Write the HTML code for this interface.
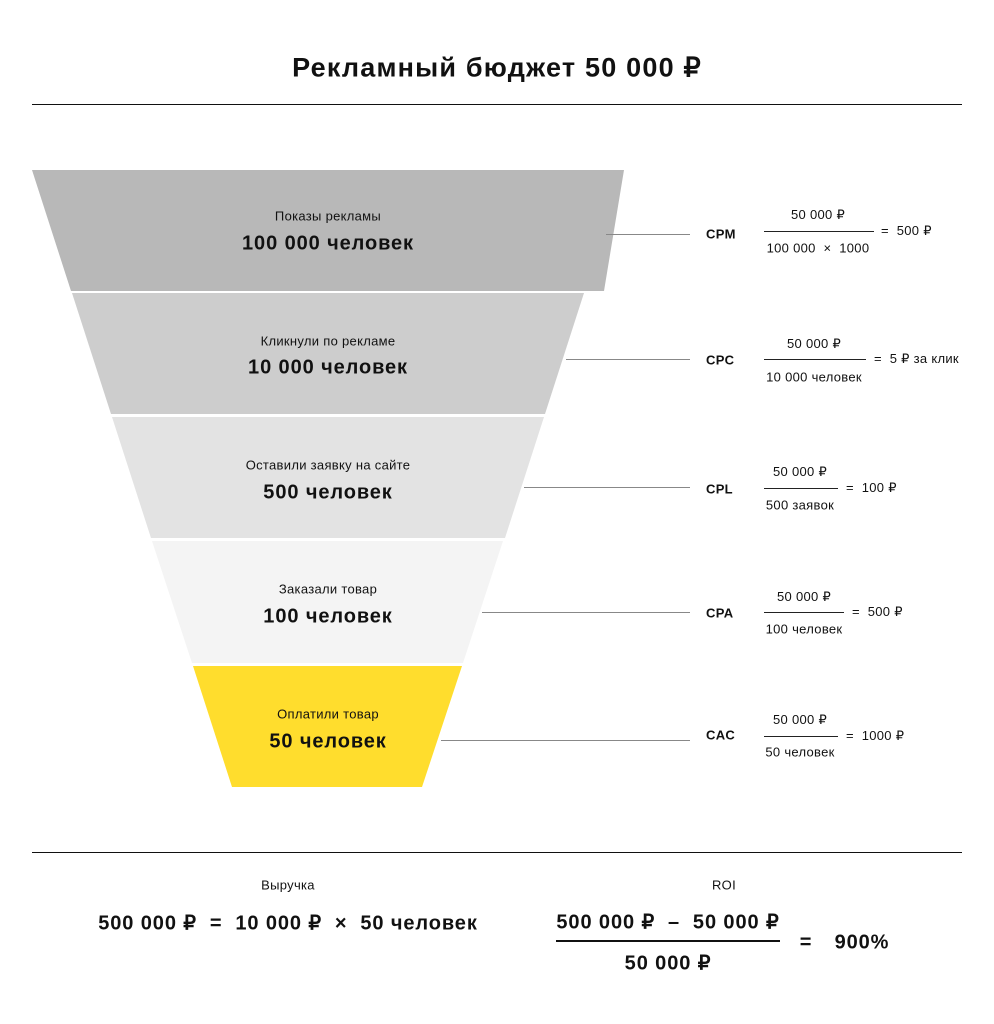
<!DOCTYPE html>
<html><head><meta charset="utf-8"><style>
body{margin:0;background:#fff;width:994px;height:1024px;position:relative;overflow:hidden;font-family:"Liberation Sans","Noto Sans CJK SC",sans-serif;color:#111}
.t{position:absolute;white-space:nowrap;transform:translate(-50%,-50%)}
.l{position:absolute;white-space:nowrap;transform:translateY(-50%)}
.s{font-size:13px;letter-spacing:0.3px}
.b{font-weight:bold;font-size:20px;letter-spacing:0.9px}
.hr{position:absolute;height:1px;background:#111}
.fl{position:absolute;height:1px;background:#222}
.cl{position:absolute;height:1px;background:#888}
.k{font-weight:bold;font-size:13px;letter-spacing:0.3px}
</style></head><body>
<div class="t" style="left:497px;top:68px;font-size:27px;font-weight:bold;letter-spacing:1.2px">Рекламный бюджет 50 000 ₽</div>
<div class="hr" style="left:32px;top:104px;width:930px"></div>
<svg style="position:absolute;left:0;top:0" width="994" height="1024">
<polygon points="32,170 624,170 604,291 71,291" fill="#b8b8b8"/>
<polygon points="72,293 584,293 545,414 111,414" fill="#cdcdcd"/>
<polygon points="112,417 544,417 505,538 151,538" fill="#e3e3e3"/>
<polygon points="152,541 503,541 463,663 192,663" fill="#f4f4f4"/>
<polygon points="193,666 462,666 422,787 232,787" fill="#ffdd2d"/>
</svg>
<div class="t s" style="left:328px;top:216px">Показы рекламы</div>
<div class="t b" style="left:328px;top:244px">100 000 человек</div>
<div class="t s" style="left:328px;top:341px">Кликнули по рекламе</div>
<div class="t b" style="left:328px;top:368px">10 000 человек</div>
<div class="t s" style="left:328px;top:465px">Оставили заявку на сайте</div>
<div class="t b" style="left:328px;top:493px">500 человек</div>
<div class="t s" style="left:328px;top:589px">Заказали товар</div>
<div class="t b" style="left:328px;top:617px">100 человек</div>
<div class="t s" style="left:328px;top:714px">Оплатили товар</div>
<div class="t b" style="left:328px;top:742px">50 человек</div>

<div class="cl" style="left:606px;top:234px;width:84px"></div>
<div class="cl" style="left:566px;top:359px;width:124px"></div>
<div class="cl" style="left:524px;top:487px;width:166px"></div>
<div class="cl" style="left:482px;top:612px;width:208px"></div>
<div class="cl" style="left:441px;top:740px;width:249px"></div>

<div class="l k" style="left:706px;top:234px">CPM</div>
<div class="t s" style="left:818px;top:215px">50 000 ₽</div>
<div class="fl" style="left:764px;top:231px;width:110px"></div>
<div class="t s" style="left:818px;top:248px">100 000 &nbsp;× &nbsp;1000</div>
<div class="l s" style="left:881px;top:231px">= &nbsp;500 ₽</div>

<div class="l k" style="left:706px;top:360px">CPC</div>
<div class="t s" style="left:814px;top:344px">50 000 ₽</div>
<div class="fl" style="left:764px;top:359px;width:102px"></div>
<div class="t s" style="left:814px;top:377px">10 000 человек</div>
<div class="l s" style="left:874px;top:359px">= &nbsp;5 ₽ за клик</div>

<div class="l k" style="left:706px;top:489px">CPL</div>
<div class="t s" style="left:800px;top:472px">50 000 ₽</div>
<div class="fl" style="left:764px;top:488px;width:74px"></div>
<div class="t s" style="left:800px;top:505px">500 заявок</div>
<div class="l s" style="left:846px;top:488px">= &nbsp;100 ₽</div>

<div class="l k" style="left:706px;top:613px">CPA</div>
<div class="t s" style="left:804px;top:597px">50 000 ₽</div>
<div class="fl" style="left:764px;top:612px;width:80px"></div>
<div class="t s" style="left:804px;top:629px">100 человек</div>
<div class="l s" style="left:852px;top:612px">= &nbsp;500 ₽</div>

<div class="l k" style="left:706px;top:735px">CAC</div>
<div class="t s" style="left:800px;top:720px">50 000 ₽</div>
<div class="fl" style="left:764px;top:736px;width:74px"></div>
<div class="t s" style="left:800px;top:752px">50 человек</div>
<div class="l s" style="left:846px;top:736px">= &nbsp;1000 ₽</div>

<div class="hr" style="left:32px;top:852px;width:930px"></div>
<div class="t s" style="left:288px;top:885px">Выручка</div>
<div class="t b" style="left:288px;top:923px">500 000 ₽ &nbsp;= &nbsp;10 000 ₽ &nbsp;× &nbsp;50 человек</div>
<div class="t s" style="left:724px;top:885px">ROI</div>
<div class="t b" style="left:668px;top:922px">500 000 ₽ &nbsp;– &nbsp;50 000 ₽</div>
<div style="position:absolute;left:556px;top:940px;width:224px;height:2px;background:#111"></div>
<div class="t b" style="left:668px;top:963px">50 000 ₽</div>
<div class="t b" style="left:806px;top:943px">=</div>
<div class="t b" style="left:862px;top:943px">900%</div>
</body></html>
